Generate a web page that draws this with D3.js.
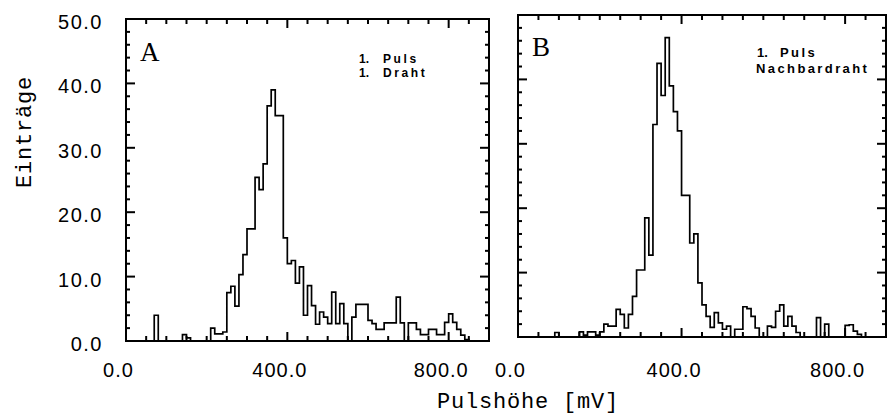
<!DOCTYPE html>
<html><head><meta charset="utf-8">
<script src="https://cdn.jsdelivr.net/npm/d3@7"></script>
<style>body{margin:0;background:#fff}svg{display:block}</style>
</head><body>
<svg id="c" width="888" height="415"></svg>
<script>
// ---- data ----
const binWidth = 10;           // mV per bin, bins start at 0
const countsA = [
  0,0,0,0,0,0,0,4,0,0,
  0,0,0,0,1,0.5,0,0,0,0,
  0,2,1.1,1.1,1.4,7.5,8.5,5.4,10.3,13.4,
  17.4,17.4,25.4,23.5,27.5,36.5,39,35,35,16,
  12,12.5,9,11.5,4,8.6,5.5,2.6,4.5,3.7,
  2.7,7.6,2.7,5.8,2.7,0,3.7,5.7,5.7,5.7,
  3.2,2.7,1.8,1.8,2.8,2.8,2.8,6.8,2.8,0,
  2.8,2.8,1.8,1,1,1.8,1.8,1,1,2.9,
  4.2,2.9,1.8,0.9,0.2,0,0,0,0,0
];
const countsB = [
  0,0,0,0,0,0,0,0,0,0.7,
  0,0,0,0,0,0.8,0.3,0.8,0.8,0.3,
  0.8,2,1.7,1.7,4.3,3.5,1.4,3.5,6.3,10.4,
  10.4,18.5,12.7,33,42.5,37.5,46.5,39,35,32,
  22,22,14.6,16,8.4,5,3.2,1.5,3.8,2.2,
  1.2,1.7,0,1.2,1.2,4.7,4.4,3.2,1.4,0,
  0,1.7,1.5,4,5,1.7,3.2,1.7,0.7,0,
  0,0,0,3,0,2,0,0,0,0,
  1.8,1.9,0.9,0.4,0,0,0,0,0,0
];
const xDomain = [0, 900];
const yDomain = [0, 50];
const xMajorTicks = [0, 400, 800];
const xMinorTicks = d3.range(50, 900, 50);
const yMajorTicks = [0, 10, 20, 30, 40, 50];
const yMinorTicks = d3.range(2, 50, 2);
const panelLetters = ["A", "B"];
const legendA = [["1.", "Puls"], ["1.", "Draht"]];
const legendB = [["1.", "Puls"], ["", "Nachbardraht"]];
const xTitle = "Pulsh\u00f6he [mV]";
const yTitle = "Eintr\u00e4ge";

// ---- layout ----
const svg = d3.select("#c");
svg.append("rect").attr("width", 888).attr("height", 415).attr("fill", "#fff");

const panels = [
  {x0: 126, x1: 489, top: 19, bottom: 341, counts: countsA, letter: panelLetters[0],
   letterPos: [140, 61], legend: legendA, legPos: [359, 383, 63, 14], legFont: 12, legLS: 2.6,
   yLabels: true},
  {x0: 518, x1: 886, top: 15, bottom: 337, counts: countsB, letter: panelLetters[1],
   letterPos: [532, 56], legend: legendB, legPos: [757, 780, 57, 16], legFont: 13, legLS: 2.4,
   yLabels: false}
];

const numFont = "'Liberation Sans', Arial, sans-serif";

panels.forEach(p => {
  const x = d3.scaleLinear().domain(xDomain).range([p.x0, p.x1]);
  const y = d3.scaleLinear().domain(yDomain).range([p.bottom, p.top]);
  const g = svg.append("g");

  // histogram
  const pts = p.counts.map((v, i) => [i * binWidth, v]);
  pts.push([p.counts.length * binWidth, 0]);
  const line = d3.line().x(d => x(d[0])).y(d => y(d[1])).curve(d3.curveStepAfter);
  g.append("path").attr("d", line(pts)).attr("fill", "none")
    .attr("stroke", "#000").attr("stroke-width", 1.7).attr("stroke-linejoin", "miter");

  // tick marks (inward), drawn from the scales
  const tg = g.append("g").attr("stroke", "#000").attr("stroke-width", 2);
  const xTicks = xMinorTicks.map(v => ({v, len: xMajorTicks.includes(v) ? 9 : 5}));
  tg.selectAll("line.xb").data(xTicks).join("line").attr("class", "xb")
    .attr("x1", d => x(d.v)).attr("x2", d => x(d.v))
    .attr("y1", p.bottom).attr("y2", d => p.bottom - d.len);
  tg.selectAll("line.xt").data(xTicks).join("line").attr("class", "xt")
    .attr("x1", d => x(d.v)).attr("x2", d => x(d.v))
    .attr("y1", p.top).attr("y2", d => p.top + d.len);
  const yTicks = yMinorTicks.map(v => ({v, len: yMajorTicks.includes(v) ? 9 : 4}));
  tg.selectAll("line.yl").data(yTicks).join("line").attr("class", "yl")
    .attr("y1", d => y(d.v)).attr("y2", d => y(d.v))
    .attr("x1", p.x0).attr("x2", d => p.x0 + d.len);
  tg.selectAll("line.yr").data(yTicks).join("line").attr("class", "yr")
    .attr("y1", d => y(d.v)).attr("y2", d => y(d.v))
    .attr("x1", p.x1).attr("x2", d => p.x1 - d.len);

  // tick labels via axes
  const bx = g.append("g").attr("transform", `translate(0,${p.bottom})`)
    .call(d3.axisBottom(x).tickValues(xMajorTicks).tickSize(0)
      .tickFormat(d3.format(".1f")).tickPadding(377 - p.bottom - 14));
  bx.select(".domain").remove();
  bx.selectAll("text").attr("x", -8).attr("fill", "#000")
    .style("font-family", numFont).style("font-size", "20px").style("letter-spacing", "1px");
  if (p.yLabels) {
    const ly = g.append("g").attr("transform", `translate(${p.x0},0)`)
      .call(d3.axisLeft(y).tickValues(yMajorTicks).tickSize(0)
        .tickFormat(d3.format(".1f")).tickPadding(23));
    ly.select(".domain").remove();
    ly.selectAll("text").attr("fill", "#000").attr("y", 3)
      .style("font-family", numFont).style("font-size", "20px").style("letter-spacing", "1.5px");
  }

  // frame
  g.append("rect").attr("x", p.x0).attr("y", p.top)
    .attr("width", p.x1 - p.x0).attr("height", p.bottom - p.top)
    .attr("fill", "none").attr("stroke", "#000").attr("stroke-width", 2);

  // panel letter
  g.append("text").attr("x", p.letterPos[0]).attr("y", p.letterPos[1]).text(p.letter)
    .style("font-family", "'Liberation Serif', serif").style("font-size", "27px");

  // legend
  p.legend.forEach((row, i) => {
    const yy = p.legPos[2] + i * p.legPos[3];
    const t = g.append("text").attr("y", yy)
      .style("font-family", "'Liberation Sans', Arial, sans-serif")
      .style("font-weight", "bold").style("font-size", p.legFont + "px")
      .style("letter-spacing", p.legLS + "px");
    if (row[0]) {
      g.append("text").attr("x", p.legPos[0]).attr("y", yy).text(row[0])
        .style("font-family", "'Liberation Sans', Arial, sans-serif")
        .style("font-weight", "bold").style("font-size", p.legFont + "px");
      t.attr("x", p.legPos[1]).text(row[1]);
    } else {
      t.attr("x", p.legPos[0] - 1).text(row[1]);
    }
  });
});

// axis titles
svg.append("text").attr("x", 528).attr("y", 408).attr("text-anchor", "middle")
  .text(xTitle).style("font-family", "'Liberation Mono', monospace")
  .style("font-size", "22px").style("letter-spacing", "0.8px");
svg.append("text").attr("transform", "translate(31,132) rotate(-90)")
  .attr("text-anchor", "middle").text(yTitle)
  .style("font-family", "'Liberation Mono', monospace")
  .style("font-size", "22px").style("letter-spacing", "0.8px");
</script>
</body></html>
